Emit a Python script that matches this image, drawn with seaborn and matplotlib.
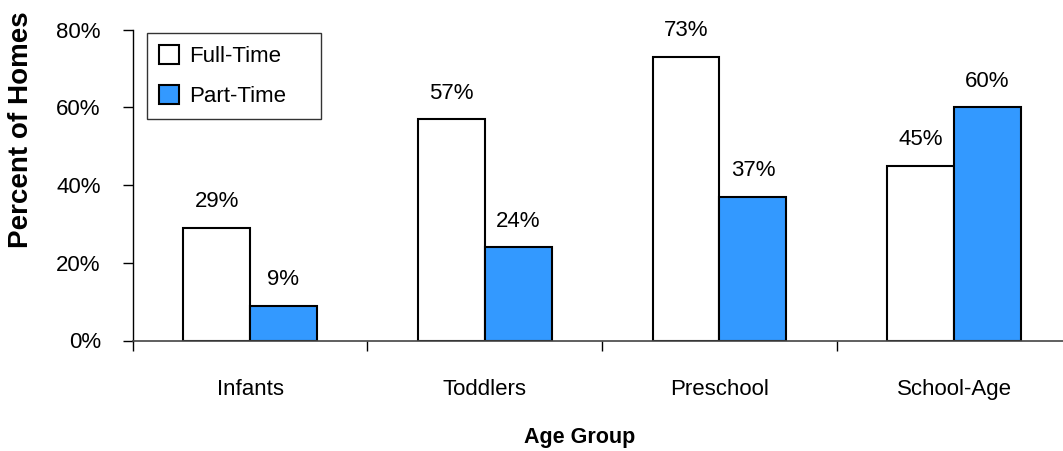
import matplotlib
matplotlib.use("Agg")
import matplotlib.pyplot as plt
import seaborn as sns
import pandas as pd
from matplotlib.patches import Patch

categories = ["Infants", "Toddlers", "Preschool", "School-Age"]
full_time = [29, 57, 73, 45]
part_time = [9, 24, 37, 60]
series = ["Full-Time", "Part-Time"]
y_ticks = [0, 20, 40, 60, 80]

sns.set_style("white")
plt.rcParams["font.family"] = ["Liberation Sans", "DejaVu Sans"]
plt.rcParams["text.color"] = "black"
plt.rcParams["axes.labelcolor"] = "black"
plt.rcParams["xtick.color"] = "black"
plt.rcParams["ytick.color"] = "black"

df = pd.DataFrame({
    "Age Group": categories * 2,
    "Percent": full_time + part_time,
    "Type": [series[0]] * 4 + [series[1]] * 4,
})

W, H = 1063, 451
fig = plt.figure(figsize=(W / 100, H / 100), dpi=100)
left, right = 132.7, 1063
bottom, top = 451 - 340.5, 451 - 29.5
aw, ah = right - left, top - bottom
ax = fig.add_axes([left / W, bottom / H, aw / W, ah / H])

palette = {"Full-Time": "#FFFFFF", "Part-Time": "#3399FF"}
sns.barplot(data=df, x="Age Group", y="Percent", hue="Type", order=categories,
            hue_order=series, palette=palette, width=0.57, edgecolor="black",
            linewidth=1.5, saturation=1, ax=ax, legend=False)

ax.set_xlim(-0.5, -0.5 + aw / 234.7)
ax.set_ylim(0, 80)
ax.set_yticks(y_ticks)
ax.set_yticklabels([f"{v}%" for v in y_ticks], fontsize=16)

ax.set_xticks([-0.5, 0.5, 1.5, 2.5])
ax.set_xticklabels([])
ax.set_xticks(range(len(categories)), minor=True)
ax.set_xticklabels(categories, minor=True, fontsize=16)
ax.tick_params(axis="x", which="minor", bottom=False, length=0, pad=28)
ax.tick_params(axis="x", which="major", bottom=True, length=7, width=1, direction="out")
ax.tick_params(axis="y", left=True, length=7, width=1, direction="out", pad=16)

for s in ["top", "right"]:
    ax.spines[s].set_visible(False)
ax.spines["left"].set_color("black")
ax.spines["bottom"].set_color("#444444")
ax.spines["left"].set_linewidth(1)
ax.spines["bottom"].set_linewidth(1.2)

for cont in ax.containers:
    ax.bar_label(cont, labels=[f"{v:.0f}%" for v in cont.datavalues], padding=11,
                 fontsize=16)

ax.set_xlabel("Age Group", fontsize=15.5, fontweight="bold")
ax.xaxis.set_label_coords((580 - left) / aw, -(437 - 340.5) / ah)
ax.xaxis.label.set_va("center")
ax.set_ylabel("Percent of Homes", fontsize=20, fontweight="bold")
ax.yaxis.set_label_coords(-(left - 21) / aw, (340.5 - 130) / ah)
ax.yaxis.label.set_va("center")

handles = [Patch(facecolor=palette[s], edgecolor="black", linewidth=1.5, label=s) for s in series]
lx0 = (147 - left) / aw
lw = (321 - 147) / aw
ly1 = (340.5 - 33) / ah
lh = (117 - 33) / ah
leg = ax.legend(handles=handles, loc="upper left",
                bbox_to_anchor=(lx0, ly1 - lh, lw, lh), mode="expand",
                frameon=True, fancybox=False, edgecolor="black", fontsize=16,
                handlelength=0.9, handleheight=0.9, handletextpad=0.45,
                borderpad=0.55, labelspacing=0.82, borderaxespad=0)
leg.get_frame().set_linewidth(1)

fig.savefig("out.png", dpi=100)
